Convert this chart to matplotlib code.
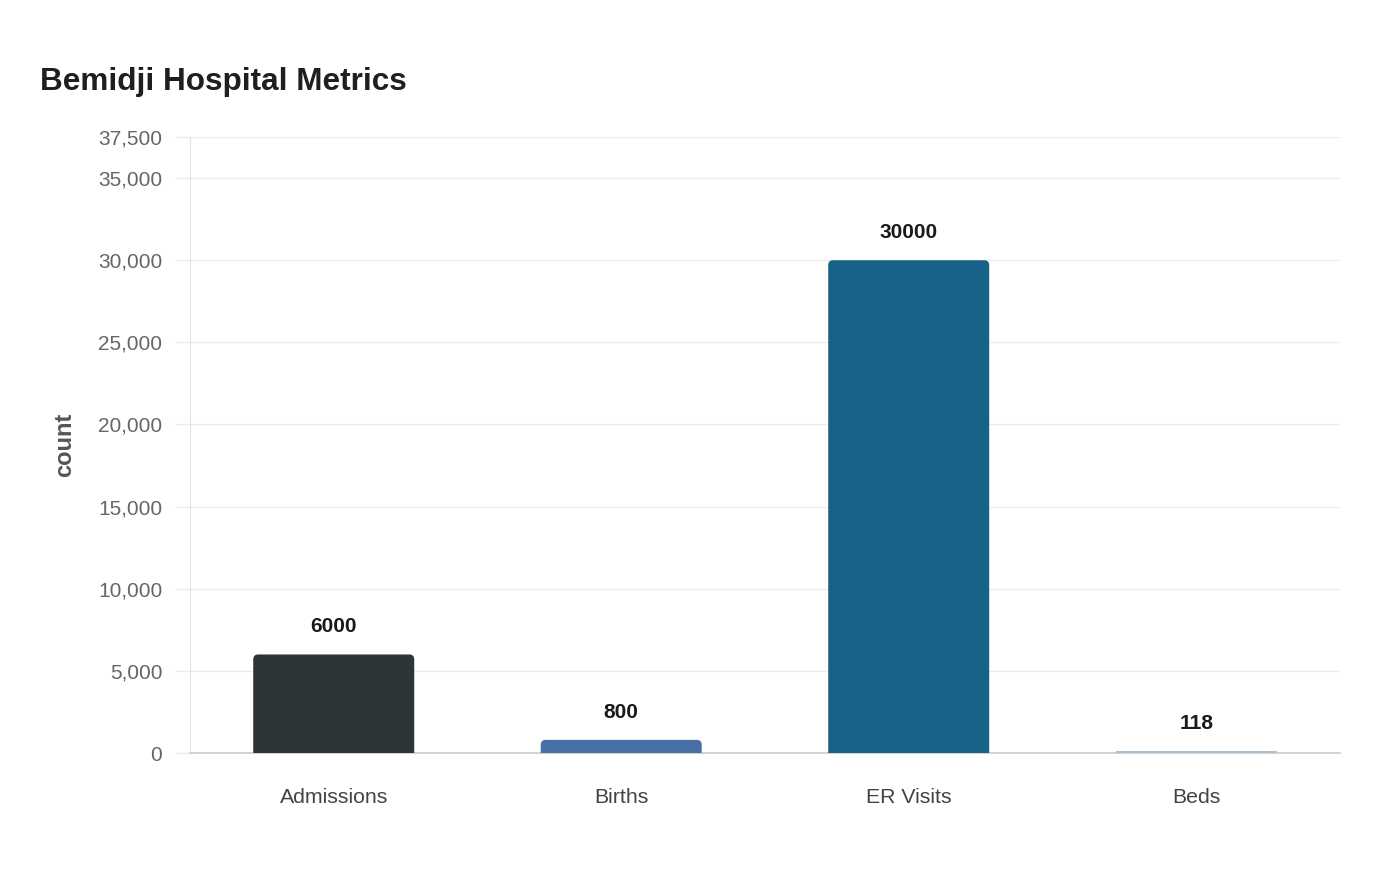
import matplotlib.pyplot as plt
from matplotlib.ticker import FuncFormatter
from matplotlib.patches import PathPatch
from matplotlib.path import Path

plt.rcParams['font.family'] = ['Liberation Sans', 'DejaVu Sans']

categories = ["Admissions", "Births", "ER Visits", "Beds"]
counts = [6000, 800, 30000, 118]
bar_colors = ["#2d3538", "#4870a4", "#186288", "#a9c3d6"]
y_ticks = [0, 5000, 10000, 15000, 20000, 25000, 30000, 35000, 37500]

fig = plt.figure(figsize=(14, 8.8), dpi=100)
ax = fig.add_axes([0.1357, 0.1443, 0.8214, 0.7])

x = range(len(categories))
bars = ax.bar(x, counts, width=0.56, color=bar_colors, zorder=3)

ax.set_xlim(-0.5, len(categories) - 0.5)
ax.set_ylim(0, 37500)

# rounded top corners: replace each bar with a single path
bbox = ax.get_window_extent()
px_x = bbox.width / (ax.get_xlim()[1] - ax.get_xlim()[0])
px_y = bbox.height / (ax.get_ylim()[1] - ax.get_ylim()[0])
radius_px = 5
for b in bars:
    if b.get_height() * px_y < 2 * radius_px + 2:
        continue
    b.set_visible(False)
    x0, y0, w, h = b.get_x(), b.get_y(), b.get_width(), b.get_height()
    rx, ry = radius_px / px_x, radius_px / px_y
    verts = [(x0, y0), (x0, y0 + h - ry), (x0, y0 + h), (x0 + rx, y0 + h),
             (x0 + w - rx, y0 + h), (x0 + w, y0 + h), (x0 + w, y0 + h - ry),
             (x0 + w, y0), (x0, y0)]
    codes = [Path.MOVETO, Path.LINETO, Path.CURVE3, Path.CURVE3, Path.LINETO,
             Path.CURVE3, Path.CURVE3, Path.LINETO, Path.CLOSEPOLY]
    ax.add_patch(PathPatch(Path(verts, codes), fc=b.get_facecolor(), ec='none', zorder=3))

for xi, v in zip(x, counts):
    ax.annotate(str(v), (xi, v), xytext=(0, 20), textcoords='offset points',
                ha='center', va='center', fontsize=15, fontweight='bold', color='#1a1a1a')

ax.set_yticks(y_ticks)
ax.yaxis.set_major_formatter(FuncFormatter(lambda v, p: f"{int(v):,}"))
ax.set_xticks(list(x))
ax.set_xticklabels(categories)

ax.set_axisbelow(True)
ax.yaxis.grid(True, color='#ebebeb', linewidth=1)
ax.tick_params(axis='y', length=11, color='#ebebeb', width=1, pad=9, labelsize=15, labelcolor='#666666')
ax.tick_params(axis='x', length=0, pad=25, labelsize=15.3, labelcolor='#444444')

for s in ['top', 'right']:
    ax.spines[s].set_visible(False)
ax.spines['left'].set_color('#e3e3e3')
ax.spines['bottom'].set_color('#cccccc')
ax.spines['bottom'].set_linewidth(1.2)
ax.spines['bottom'].set_zorder(2.5)

ax.set_ylabel('count', fontsize=17, fontweight='bold', color='#555555', labelpad=16)
fig.text(0.0286, 0.907, 'Bemidji Hospital Metrics', fontsize=22.7, fontweight='bold',
         color='#1f1f1f', ha='left', va='center')

fig.savefig('out.png', dpi=100, facecolor='white')
